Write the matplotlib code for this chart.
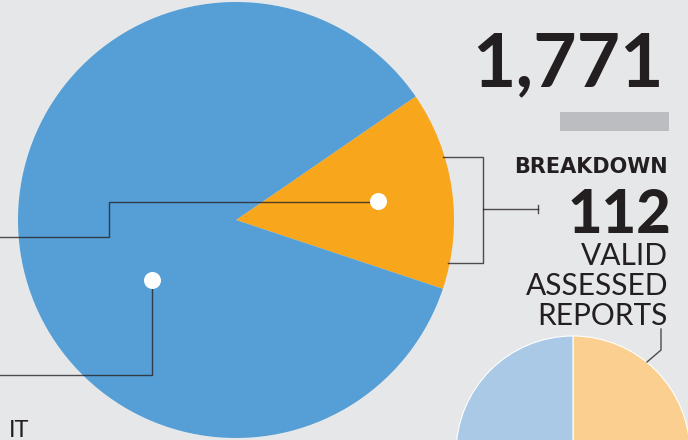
import matplotlib.pyplot as plt
from matplotlib import font_manager

# data
big_labels = ['Valid assessed', 'Other']
big_values = [14.7, 85.3]          # percent of the big pie
small_labels = ['Part A', 'Part B']
small_values = [50, 50]
total_text = '1,771'
breakdown_value = '112'
breakdown_lines = ['VALID', 'ASSESSED', 'REPORTS']

BG = '#e6e7e9'
BLUE = '#559fd6'
ORANGE = '#f8a61c'
LIGHT_BLUE = '#a9c9e7'
LIGHT_ORANGE = '#fbcf8f'
INK = '#231f20'

W, H = 688, 440


def Y(y):
    # image row (from top) to data y (from bottom)
    return H - y


names = {f.name for f in font_manager.fontManager.ttflist}
lato = 'Lato' if 'Lato' in names else 'DejaVu Sans'

fig = plt.figure(figsize=(W / 100, H / 100), dpi=100, facecolor=BG)
ax = fig.add_axes([0, 0, 1, 1])
ax.set_facecolor(BG)

# big pie
ax.pie(big_values, colors=[ORANGE, BLUE], startangle=-18.4, counterclock=True,
       radius=218, center=(236, Y(220)),
       wedgeprops=dict(linewidth=0), frame=True)

# small pie, mostly off the bottom edge
ax.pie(small_values, colors=[LIGHT_ORANGE, LIGHT_BLUE], startangle=90, counterclock=False,
       radius=117, center=(573, Y(453)),
       wedgeprops=dict(linewidth=0.8, edgecolor='white'), frame=True)

line_kw = dict(color=INK, lw=1.0, alpha=0.78, solid_joinstyle='miter', zorder=5)

# connector into the orange slice
ax.plot([0, 109, 109, 378], [Y(237), Y(237), Y(202), Y(202)], **line_kw)
# connector into the blue slice
ax.plot([152, 152, 0], [Y(280), Y(375), Y(375)], **line_kw)
# dots
ax.scatter([378, 152], [Y(201), Y(280)], s=150, color='white', zorder=6, linewidths=0)

# bracket next to the orange slice
ax.plot([443, 483, 483, 448], [Y(157), Y(157), Y(263), Y(263)], **line_kw)
ax.plot([483, 538], [Y(209), Y(209)], **line_kw)
ax.plot([538, 538], [Y(205), Y(213)], **line_kw)

# leader to the small pie
ax.plot([661, 661, 647], [Y(329), Y(350), Y(362)], **line_kw)

# grey rule under the total
ax.fill_between([560, 669], Y(131), Y(112), color='#bcbdc0', linewidth=0, zorder=2)

# texts
ax.text(664, Y(86), total_text, ha='right', va='baseline', fontsize=54,
        fontfamily=lato, fontweight='bold', color=INK, zorder=4)
ax.text(668, Y(173), 'BREAKDOWN', ha='right', va='baseline', fontsize=15,
        fontfamily='DejaVu Sans', fontweight='heavy', color=INK)
ax.text(671, Y(233), breakdown_value, ha='right', va='baseline', fontsize=43,
        fontfamily=lato, fontweight='black', color=INK)
for i, t in enumerate(breakdown_lines):
    ax.text(668, Y(265 + 30 * i), t, ha='right', va='baseline', fontsize=21.5,
            fontfamily=lato, fontweight='normal', color=INK)
ax.text(9, Y(437), 'IT', ha='left', va='baseline', fontsize=17,
        fontfamily=lato, fontweight='normal', color=INK)

ax.set_xlim(0, W)
ax.set_ylim(0, H)
ax.set_aspect('equal')
ax.axis('off')

fig.savefig('out.png', dpi=100, facecolor=BG)
